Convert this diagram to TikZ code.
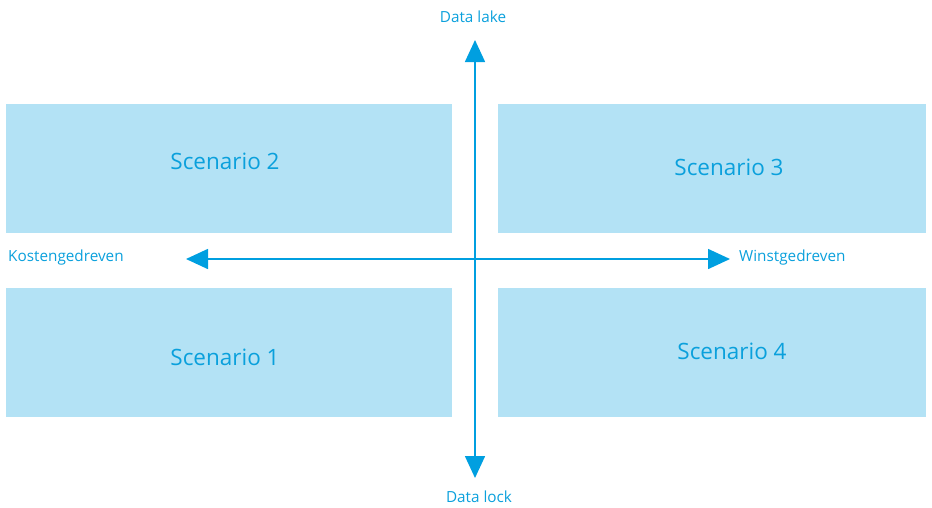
\documentclass[tikz,border=0pt]{standalone}
\usepackage{fontspec}
\setmainfont{Open Sans}
\usetikzlibrary{arrows.meta}
\definecolor{boxfill}{HTML}{B3E2F5}
\definecolor{ink}{HTML}{0AA0DC}
\definecolor{axis}{HTML}{009FE0}
\begin{document}
\begin{tikzpicture}[x=1pt,y=-1pt,
  scenbox/.style={fill=boxfill, draw=none, inner sep=0pt, anchor=north west},
  scentext/.style={text=ink, font=\fontsize{22.5}{27}\selectfont},
  axislabel/.style={text=ink, font=\fontsize{15.3}{18}\selectfont, inner sep=0pt},
  axisarrow/.style={draw=axis, line width=1.6pt, {Triangle[length=22pt,width=20pt]}-{Triangle[length=22pt,width=20pt]}}]
  \useasboundingbox (0,0) rectangle (932,507);

  % quadrants
  \node[scenbox, minimum width=446pt, minimum height=129pt] (q2) at (6,104) {};
  \node[scenbox, minimum width=428pt, minimum height=129pt] (q3) at (498,104) {};
  \node[scenbox, minimum width=446pt, minimum height=129pt] (q1) at (6,288) {};
  \node[scenbox, minimum width=428pt, minimum height=129pt] (q4) at (498,288) {};

  \node[scentext] (s2) at (225,161) {Scenario 2};
  \node[scentext] (s3) at (729,167) {Scenario 3};
  \node[scentext] (s1) at (225,357) {Scenario 1};
  \node[scentext] (s4) at (732,351) {Scenario 4};

  % axis labels
  \node[axislabel] (lake) at (473,17) {Data lake};
  \node[axislabel] (lock) at (479,497) {Data lock};
  \node[axislabel, anchor=west] (cost) at (8,258) {Kostengedreven};
  \node[axislabel, anchor=west] (win) at (739,258) {Winstgedreven};

  % axis ends
  \coordinate (top) at (475,40);
  \coordinate (bottom) at (475,478);
  \coordinate (left) at (186,259);
  \coordinate (right) at (730,259);

  \draw[axisarrow] (top) -- (bottom);
  \draw[axisarrow] (left) -- (right);
\end{tikzpicture}
\end{document}
